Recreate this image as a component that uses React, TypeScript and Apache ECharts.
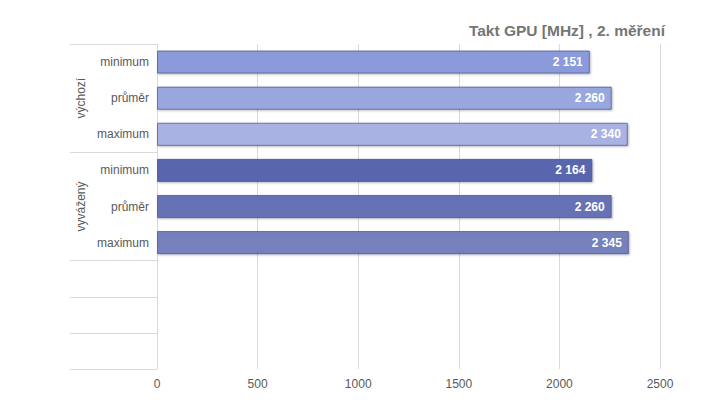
import React, { useEffect, useRef } from "react";
import * as echarts from "echarts";

const title = "Takt GPU [MHz] , 2. měření";
const rowLabels = ["minimum", "průměr", "maximum", "minimum", "průměr", "maximum", "", "", ""];
const groupLabels = ["", "výchozí", "", "", "vyvážený", "", "", "", ""];
const values = [2151, 2260, 2340, 2164, 2260, 2345];
const barColors = ["#8a9adb", "#99a7df", "#a8b3e3", "#5866ae", "#6672b5", "#7580bc"];
const xTicks = { min: 0, max: 2500, interval: 500 };

const FONT = "'Liberation Sans', Arial, sans-serif";
const fmt = (v: number) => String(v).replace(/\B(?=(\d{3})+(?!\d))/g, " ");

export default function App() {
  const ref = useRef<HTMLDivElement>(null);
  useEffect(() => {
    if (!ref.current) return;
    const chart = echarts.init(ref.current, null, { renderer: "svg" });
    const data = rowLabels.map((_, i) =>
      i < values.length
        ? { value: values[i], itemStyle: { color: barColors[i] } }
        : "-"
    );
    chart.setOption({
      animation: false,
      textStyle: { fontFamily: FONT },
      title: {
        text: title,
        right: 49,
        top: 17,
        textStyle: { fontSize: 15.5, fontWeight: "bold", color: "#757575", fontFamily: FONT },
      },
      grid: { left: 157, right: 59, top: 44, bottom: 38 },
      xAxis: {
        type: "value",
        min: xTicks.min,
        max: xTicks.max,
        interval: xTicks.interval,
        axisLine: { show: false },
        axisTick: { show: false },
        axisLabel: { color: "#595959", fontSize: 12, margin: 9, fontFamily: FONT, formatter: (v: number) => String(v) },
        splitLine: { show: true, lineStyle: { color: "#d9d9d9", width: 1 } },
      },
      yAxis: [
        {
          type: "category",
          inverse: true,
          data: rowLabels,
          axisLine: { show: true, lineStyle: { color: "#d9d9d9" } },
          axisTick: { show: false },
          splitLine: { show: false },
          axisLabel: { color: "#595959", fontSize: 12, margin: 8, interval: 0, fontFamily: FONT },
        },
        {
          type: "category",
          inverse: true,
          position: "left",
          data: groupLabels,
          axisLine: { show: false },
          axisTick: {
            show: true,
            length: 87,
            interval: (i: number) => i === 0 || i === 3 || i === 6 || i === 7 || i === 8,
            lineStyle: { color: "#d9d9d9" },
          },
          splitLine: { show: false },
          axisLabel: {
            color: "#595959",
            fontSize: 12,
            rotate: 90,
            margin: 70,
            fontFamily: FONT,
            interval: (i: number) => i === 1 || i === 4,
          },
        },
      ],
      series: [
        {
          type: "bar",
          yAxisIndex: 0,
          data,
          barCategoryGap: "36%",
          itemStyle: {
            borderColor: "rgba(70,80,140,0.7)",
            borderWidth: 1,
            shadowColor: "rgba(0,0,0,0.3)",
            shadowBlur: 2,
            shadowOffsetX: 1,
            shadowOffsetY: 1,
          },
          label: {
            show: true,
            position: "insideRight",
            distance: 7,
            color: "#ffffff",
            fontWeight: "bold",
            fontSize: 12,
            fontFamily: FONT,
            formatter: (p: any) => fmt(p.value),
          },
        },
      ],
    });
    return () => chart.dispose();
  }, []);
  return <div ref={ref} style={{ width: 719, height: 407, position: "absolute", left: 0, top: 0 }} />;
}
